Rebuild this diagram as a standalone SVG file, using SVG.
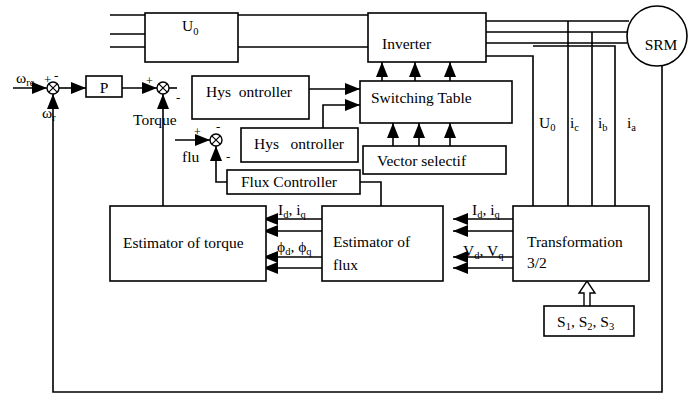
<svg xmlns="http://www.w3.org/2000/svg" width="694" height="394" viewBox="0 0 694 394" font-family="'Liberation Serif', 'Times New Roman', 'DejaVu Serif', serif">
<defs>
<marker id="ah" markerUnits="userSpaceOnUse" markerWidth="15" markerHeight="12" refX="15" refY="6" orient="auto">
<path d="M0,0 L15,6 L0,12 z" fill="#000"/>
</marker>
<style>
text{font-family:'Liberation Serif','Times New Roman','DejaVu Serif',serif;font-size:15.5px;fill:#000}
.sm{font-size:10.5px}
.box{fill:#fff;stroke:#000;stroke-width:1.6}
.ln{fill:none;stroke:#000;stroke-width:1.6}
.ar{fill:none;stroke:#000;stroke-width:1.6;marker-end:url(#ah)}
.pre{white-space:pre}
</style>
</defs>
<rect width="694" height="394" fill="#fff"/>

<g id="connectors">
<path class="ln" d="M110,15 H145 M110,34 H145 M110,47 H145"/>
<path class="ln" d="M238,15 H368 M238,47 H368"/>
<path class="ln" d="M486,21 H629 M486,32 H628 M486,43 H627"/>
<path class="ln" d="M486,56 H533 V206 M533,46 H615 V206 M568,21 V206 M592,32 V206"/>
<path class="ar" d="M13,88 H47"/>
<path class="ar" d="M59,88 H86"/>
<path class="ar" d="M122,88 H157"/>
<path class="ln" d="M169,88 H177"/>
<path class="ar" d="M662,66 V392 H53 V94"/>
<path class="ar" d="M163,206 V94"/>
<path class="ar" d="M309,89 H360"/>
<path class="ar" d="M323,128 V105 H360"/>
<path class="ar" d="M382,81 V62"/>
<path class="ar" d="M415,81 V62"/>
<path class="ar" d="M450,81 V62"/>
<path class="ar" d="M393,146 V123"/>
<path class="ar" d="M419,146 V123"/>
<path class="ar" d="M450,146 V123"/>
<path class="ar" d="M175,140 H210"/>
<path class="ar" d="M227,182 H216 V146"/>
<path class="ln" d="M381,206 V182 H360"/>
<path class="ar" d="M322,219 H263"/>
<path class="ar" d="M322,231 H263"/>
<path class="ar" d="M322,257 H263"/>
<path class="ar" d="M322,268 H263"/>
<path class="ar" d="M513,219 H453"/>
<path class="ar" d="M513,231 H453"/>
<path class="ar" d="M513,257 H453"/>
<path class="ar" d="M513,268 H453"/>
<path d="M584,306 V293 H579 L587,281 L595,293 H590 V306" fill="#fff" stroke="#000" stroke-width="1.4"/>
</g>

<g id="u0">
<rect class="box" x="145" y="13" width="93" height="49"/>
<text x="182" y="31">U<tspan class="sm" dy="4">0</tspan></text>
</g>
<g id="inverter">
<rect class="box" x="368" y="13" width="118" height="49"/>
<text x="382" y="49">Inverter</text>
</g>
<g id="srm">
<circle cx="657" cy="36" r="30" fill="#fff" stroke="#000" stroke-width="1.6"/>
<text x="661" y="50" text-anchor="middle">SRM</text>
</g>
<g id="sum1">
<circle cx="53" cy="88" r="6" fill="#fff" stroke="#000" stroke-width="1.4"/>
<path class="ln" d="M48.8,83.8 L57.2,92.2 M57.2,83.8 L48.8,92.2" style="stroke-width:1.2"/>
<text x="16" y="83">ω<tspan class="sm" dy="3">re</tspan></text>
<text x="44" y="84" style="font-size:13px">+</text>
<text x="54" y="80" style="font-size:13px">-</text>
<text x="42" y="118">ω<tspan class="sm" dy="3">r</tspan></text>
</g>
<g id="p">
<rect class="box" x="86" y="76" width="36" height="21"/>
<text x="104" y="93" text-anchor="middle">P</text>
</g>
<g id="sum2">
<circle cx="163" cy="88" r="6" fill="#fff" stroke="#000" stroke-width="1.4"/>
<path class="ln" d="M158.8,83.8 L167.2,92.2 M167.2,83.8 L158.8,92.2" style="stroke-width:1.2"/>
<text x="146" y="85" style="font-size:12px">+</text>
<text x="176" y="102" style="font-size:13px">-</text>
<text x="133" y="125">Torque</text>
</g>
<g id="hys1">
<rect class="box" x="192" y="76" width="117" height="43"/>
<text x="249" y="97" text-anchor="middle" class="pre">Hys  ontroller</text>
</g>
<g id="hys2">
<rect class="box" x="241" y="128" width="117" height="34"/>
<text x="299" y="149" text-anchor="middle" class="pre">Hys   ontroller</text>
</g>
<g id="switching">
<rect class="box" x="360" y="81" width="152" height="42"/>
<text x="371" y="103">Switching Table</text>
</g>
<g id="vector">
<rect class="box" x="363" y="146" width="143" height="28"/>
<text x="377" y="166">Vector selectif</text>
</g>
<g id="sum3">
<circle cx="216" cy="140" r="6" fill="#fff" stroke="#000" stroke-width="1.4"/>
<path class="ln" d="M211.8,135.8 L220.2,144.2 M220.2,135.8 L211.8,144.2" style="stroke-width:1.2"/>
<text x="194" y="136" style="font-size:12px">+</text>
<text x="216" y="131" style="font-size:13px">-</text>
<text x="226" y="161" style="font-size:13px">-</text>
<text x="182" y="162">flu</text>
</g>
<g id="fluxctrl">
<rect class="box" x="227" y="170" width="133" height="24"/>
<text x="241" y="187">Flux Controller</text>
</g>
<g id="esttorque">
<rect class="box" x="110" y="206" width="156" height="75"/>
<text x="123" y="248">Estimator of torque</text>
</g>
<g id="estflux">
<rect class="box" x="322" y="206" width="121" height="75"/>
<text x="333" y="247">Estimator of</text>
<text x="333" y="270">flux</text>
</g>
<g id="transformation">
<rect class="box" x="513" y="206" width="136" height="75"/>
<text x="527" y="247">Transformation</text>
<text x="527" y="268">3/2</text>
</g>
<g id="sbox">
<rect class="box" x="544" y="306" width="90" height="30"/>
<text x="557" y="327">S<tspan class="sm" dy="3">1</tspan><tspan dy="-3">, S</tspan><tspan class="sm" dy="3">2</tspan><tspan dy="-3">, S</tspan><tspan class="sm" dy="3">3</tspan></text>
</g>
<g id="labels">
<text x="278" y="215">I<tspan class="sm" dy="3">d</tspan><tspan dy="-3">, i</tspan><tspan class="sm" dy="3">q</tspan></text>
<text x="277" y="252">ϕ<tspan class="sm" dy="3">d</tspan><tspan dy="-3">, ϕ</tspan><tspan class="sm" dy="3">q</tspan></text>
<text x="472" y="215">I<tspan class="sm" dy="3">d</tspan><tspan dy="-3">, i</tspan><tspan class="sm" dy="3">q</tspan></text>
<text x="463" y="256">V<tspan class="sm" dy="3">d</tspan><tspan dy="-3">, V</tspan><tspan class="sm" dy="3">q</tspan></text>
<text x="539" y="128">U<tspan class="sm" dy="3">0</tspan></text>
<text x="570" y="128">i<tspan class="sm" dy="3">c</tspan></text>
<text x="598" y="128">i<tspan class="sm" dy="3">b</tspan></text>
<text x="627" y="128">i<tspan class="sm" dy="3">a</tspan></text>
</g>
</svg>
